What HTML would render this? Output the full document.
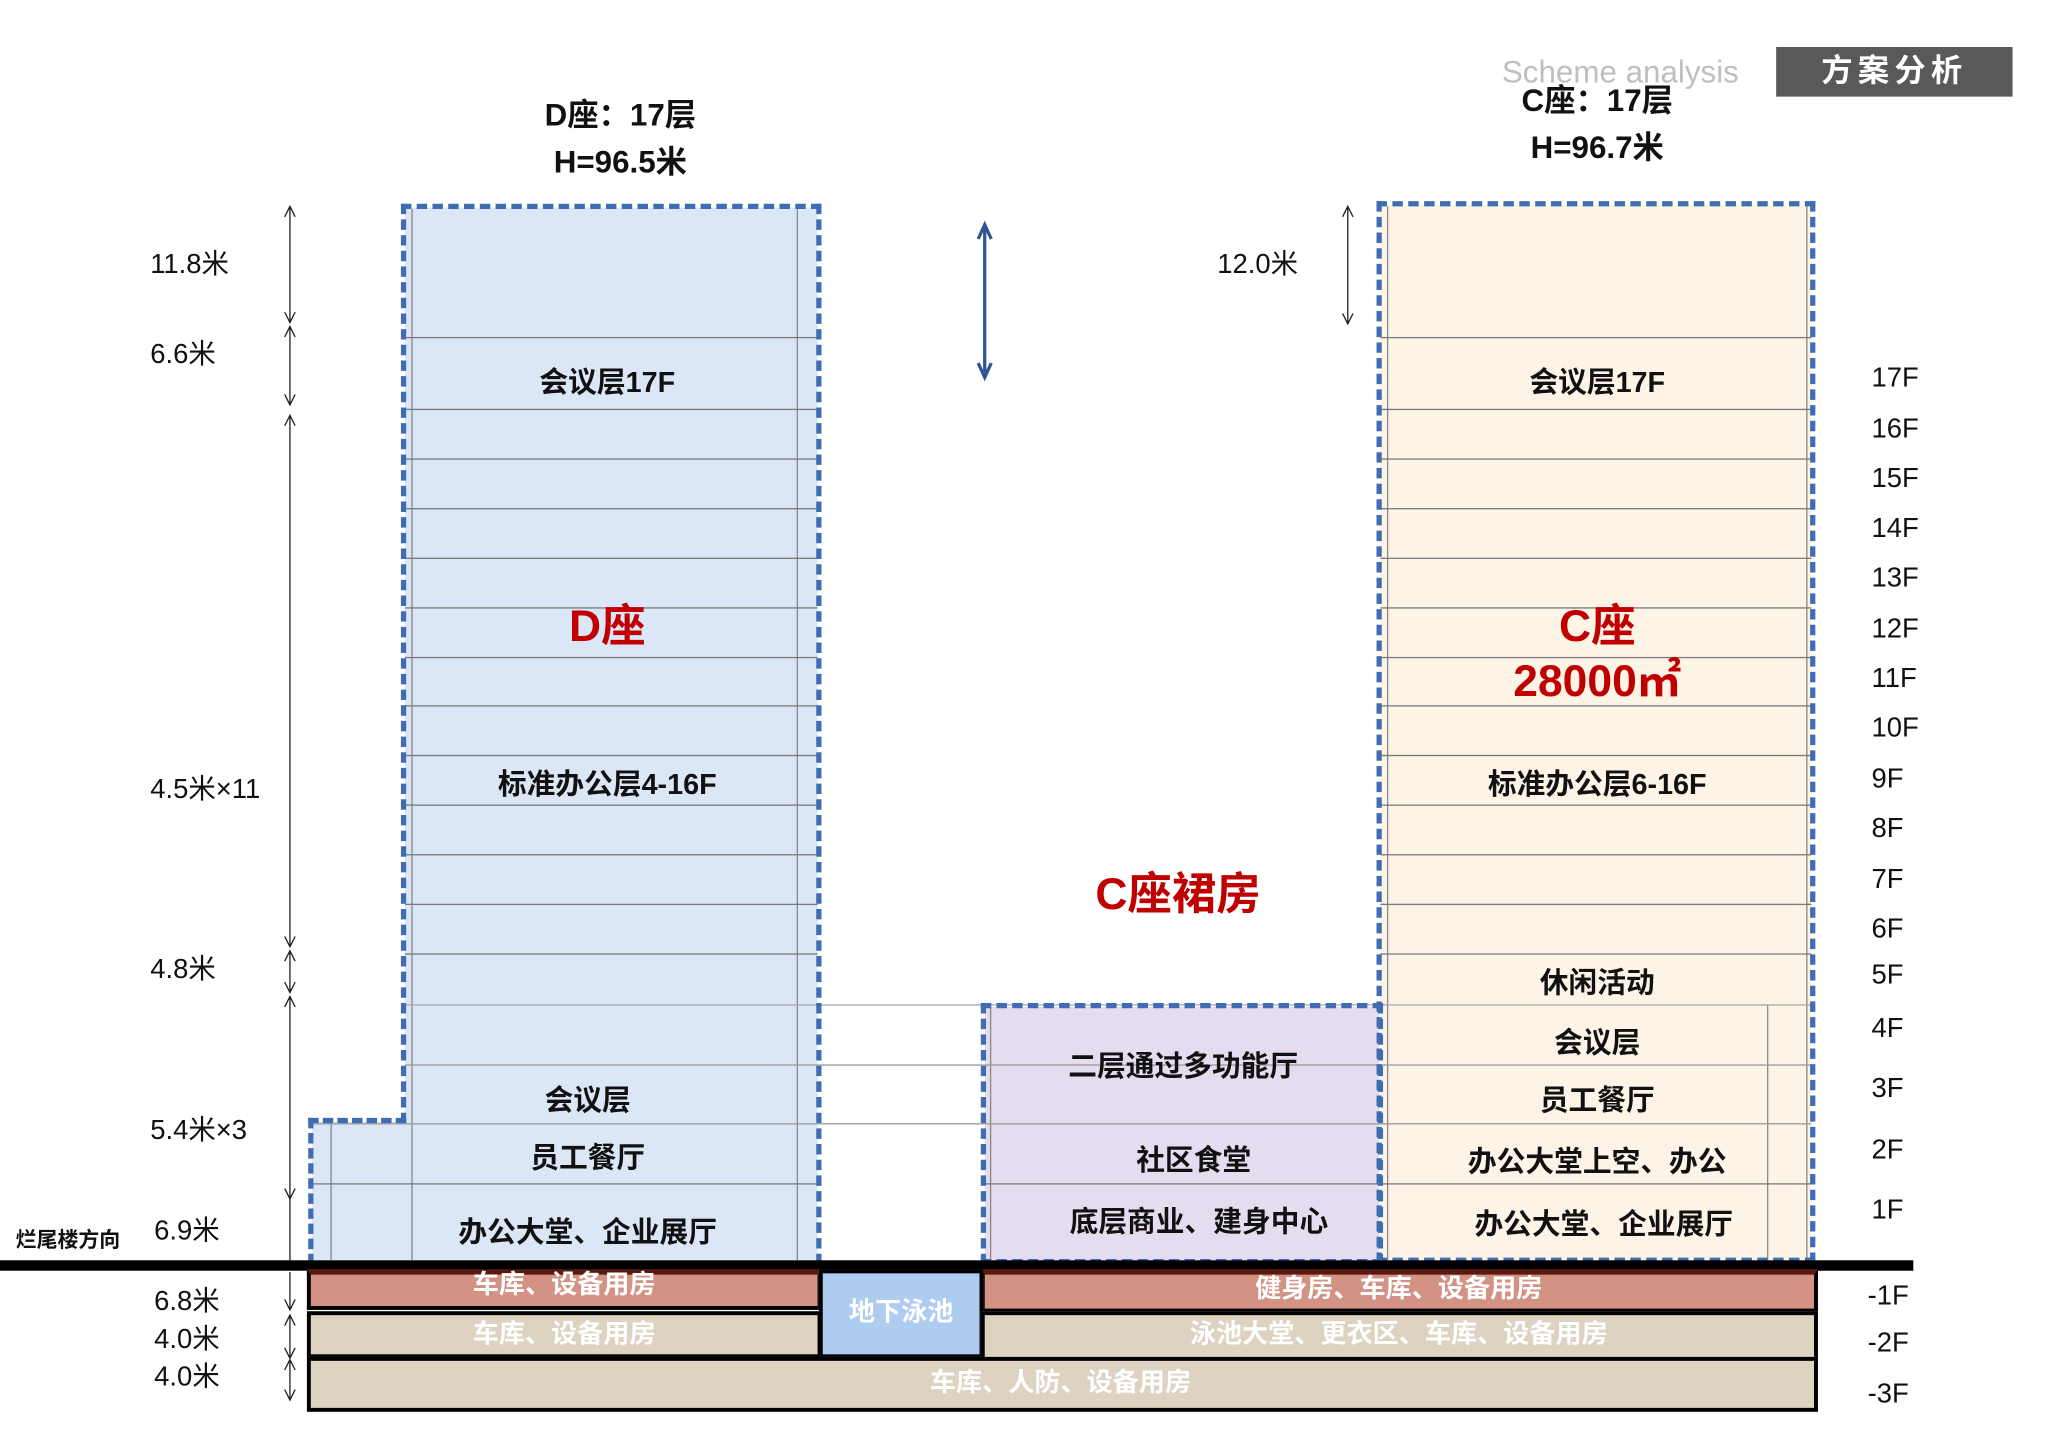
<!DOCTYPE html>
<html><head><meta charset="utf-8"><style>
html,body{margin:0;padding:0;background:#fff;overflow:hidden}
#w{position:absolute;left:0;top:0;width:1568px;height:1108px;transform:scale(1.306,1.306);transform-origin:0 0;font-family:"Liberation Sans","Noto Sans CJK SC",sans-serif}
#w div{position:absolute;box-sizing:border-box}
.t{width:500px;text-align:center;height:30px;line-height:30px;font-weight:bold;font-size:22px;color:#111;white-space:nowrap}
.r{color:#c00000;font-size:34px;height:44px;line-height:44px}
.f{font-size:21px;font-weight:normal;width:80px;text-align:left;color:#111}
.d{font-size:21px;font-weight:normal;text-align:left;color:#111}
.w{color:#fff;font-size:20px}
.h{height:1px;background:#7a7a7a}
.v{width:1px;background:#888}
</style></head><body><div id="w">

<div style="left:1150px;top:42px;font-size:24px;color:#bfbfbf;white-space:nowrap">Scheme analysis</div>
<div style="left:1360px;top:36px;width:181px;height:38px;background:#595959;color:#fff;font-size:24px;font-weight:bold;text-align:center;line-height:38px;letter-spacing:4px">方案分析</div>

<div class="t" style="left:225px;top:74px;font-size:24px">D座：17层</div>
<div class="t" style="left:225px;top:110px;font-size:24px">H=96.5米</div>
<div class="t" style="left:973px;top:63px;font-size:24px">C座：17层</div>
<div class="t" style="left:973px;top:99px;font-size:24px">H=96.7米</div>

<!-- D tower -->
<div style="left:310px;top:159px;width:316px;height:806px;background:#dbe6f7"></div>
<div style="left:239px;top:859px;width:75px;height:106px;background:#dbe6f7"></div>
<div class="v" style="left:315px;top:160px;height:805px"></div>
<div class="v" style="left:610px;top:160px;height:805px"></div>
<div class="v" style="left:253px;top:860px;height:105px"></div>

<!-- C podium -->
<div style="left:754px;top:771px;width:302px;height:195px;background:#e6dcef"></div>
<div class="v" style="left:758px;top:771px;height:195px"></div>

<!-- C tower -->
<div style="left:1057px;top:157px;width:330px;height:808px;background:#fdf3e6"></div>
<div class="v" style="left:1062px;top:158px;height:807px"></div>
<div class="v" style="left:1383px;top:158px;height:807px"></div>
<div class="v" style="left:1353px;top:769px;height:196px"></div>

<!-- floor lines -->
<div class="h" style="left:310px;top:258px;width:316px"></div>
<div class="h" style="left:310px;top:313px;width:316px"></div>
<div class="h" style="left:310px;top:351px;width:316px"></div>
<div class="h" style="left:310px;top:389px;width:316px"></div>
<div class="h" style="left:310px;top:427px;width:316px"></div>
<div class="h" style="left:310px;top:465px;width:316px"></div>
<div class="h" style="left:310px;top:503px;width:316px"></div>
<div class="h" style="left:310px;top:540px;width:316px"></div>
<div class="h" style="left:310px;top:578px;width:316px"></div>
<div class="h" style="left:310px;top:616px;width:316px"></div>
<div class="h" style="left:310px;top:654px;width:316px"></div>
<div class="h" style="left:310px;top:692px;width:316px"></div>
<div class="h" style="left:310px;top:730px;width:316px"></div>
<div class="h" style="left:310px;top:769px;width:1077px;background:#aaa"></div>
<div class="h" style="left:310px;top:815px;width:1077px;background:#999"></div>
<div class="h" style="left:239px;top:860px;width:1148px;background:#999"></div>
<div class="h" style="left:239px;top:906px;width:387px"></div>
<div class="h" style="left:754px;top:906px;width:633px"></div>
<div class="h" style="left:1057px;top:258px;width:330px"></div>
<div class="h" style="left:1057px;top:313px;width:330px"></div>
<div class="h" style="left:1057px;top:351px;width:330px"></div>
<div class="h" style="left:1057px;top:389px;width:330px"></div>
<div class="h" style="left:1057px;top:427px;width:330px"></div>
<div class="h" style="left:1057px;top:465px;width:330px"></div>
<div class="h" style="left:1057px;top:503px;width:330px"></div>
<div class="h" style="left:1057px;top:540px;width:330px"></div>
<div class="h" style="left:1057px;top:578px;width:330px"></div>
<div class="h" style="left:1057px;top:616px;width:330px"></div>
<div class="h" style="left:1057px;top:654px;width:330px"></div>
<div class="h" style="left:1057px;top:692px;width:330px"></div>
<div class="h" style="left:1057px;top:730px;width:330px"></div>

<!-- dashed outlines -->
<div style="left:307px;top:156px;width:322px;height:812px;border:4px dashed #3f6db3;border-bottom:none;border-left:none"></div>
<div style="left:307px;top:156px;width:4px;height:704px;border-left:4px dashed #3f6db3"></div>
<div style="left:236px;top:856px;width:75px;height:112px;border:4px dashed #3f6db3;border-right:none;border-bottom:none"></div>
<div style="left:751px;top:768px;width:308px;height:200px;border:4px dashed #3f6db3"></div>
<div style="left:1054px;top:154px;width:336px;height:813px;border:4px dashed #3f6db3"></div>

<!-- labels -->
<div class="t" style="left:215px;top:278px">会议层17F</div>
<div class="r t" style="left:215px;top:458px">D座</div>
<div class="t" style="left:215px;top:586px">标准办公层4-16F</div>
<div class="t" style="left:200px;top:828px">会议层</div>
<div class="t" style="left:200px;top:872px">员工餐厅</div>
<div class="t" style="left:200px;top:929px">办公大堂、企业展厅</div>

<div class="t" style="left:656px;top:802px">二层通过多功能厅</div>
<div class="t" style="left:664px;top:874px">社区食堂</div>
<div class="t" style="left:668px;top:921px">底层商业、建身中心</div>
<div class="r t" style="left:652px;top:663px">C座裙房</div>

<div class="t" style="left:973px;top:278px">会议层17F</div>
<div class="r t" style="left:973px;top:458px">C座</div>
<div class="r t" style="left:973px;top:500px">28000㎡</div>
<div class="t" style="left:973px;top:586px">标准办公层6-16F</div>
<div class="t" style="left:973px;top:738px">休闲活动</div>
<div class="t" style="left:973px;top:784px">会议层</div>
<div class="t" style="left:973px;top:828px">员工餐厅</div>
<div class="t" style="left:973px;top:875px">办公大堂上空、办公</div>
<div class="t" style="left:978px;top:923px">办公大堂、企业展厅</div>

<!-- floor numbers -->
<div class="t f" style="left:1433px;top:275px">17F</div>
<div class="t f" style="left:1433px;top:314px">16F</div>
<div class="t f" style="left:1433px;top:352px">15F</div>
<div class="t f" style="left:1433px;top:390px">14F</div>
<div class="t f" style="left:1433px;top:428px">13F</div>
<div class="t f" style="left:1433px;top:467px">12F</div>
<div class="t f" style="left:1433px;top:505px">11F</div>
<div class="t f" style="left:1433px;top:543px">10F</div>
<div class="t f" style="left:1433px;top:582px">9F</div>
<div class="t f" style="left:1433px;top:620px">8F</div>
<div class="t f" style="left:1433px;top:659px">7F</div>
<div class="t f" style="left:1433px;top:697px">6F</div>
<div class="t f" style="left:1433px;top:732px">5F</div>
<div class="t f" style="left:1433px;top:773px">4F</div>
<div class="t f" style="left:1433px;top:819px">3F</div>
<div class="t f" style="left:1433px;top:866px">2F</div>
<div class="t f" style="left:1433px;top:912px">1F</div>
<div class="t f" style="left:1430px;top:978px">-1F</div>
<div class="t f" style="left:1430px;top:1014px">-2F</div>
<div class="t f" style="left:1430px;top:1053px">-3F</div>

<!-- dims -->
<div class="t d" style="left:115px;top:188px">11.8米</div>
<div class="t d" style="left:115px;top:257px">6.6米</div>
<div class="t d" style="left:115px;top:590px">4.5米×11</div>
<div class="t d" style="left:115px;top:728px">4.8米</div>
<div class="t d" style="left:115px;top:851px">5.4米×3</div>
<div class="t d" style="left:118px;top:928px">6.9米</div>
<div class="t d" style="left:118px;top:982px">6.8米</div>
<div class="t d" style="left:118px;top:1011px">4.0米</div>
<div class="t d" style="left:118px;top:1040px">4.0米</div>
<div class="t d" style="left:932px;top:188px">12.0米</div>
<div class="t" style="left:12px;top:936px;width:100px;font-size:16px;text-align:left">烂尾楼方向</div>

<svg style="position:absolute;left:0;top:0" width="1560" height="1102">
<g stroke="#222" stroke-width="1" fill="none">
<path d="M222 158V247M218 166L222 158L226 166M218 239L222 247L226 239"/>
<path d="M222 250V310M218 258L222 250L226 258M218 302L222 310L226 302"/>
<path d="M222 318V725M218 326L222 318L226 326M218 717L222 725L226 717"/>
<path d="M222 728V760M218 736L222 728L226 736M218 752L222 760L226 752"/>
<path d="M222 763V918M218 771L222 763L226 771M218 910L222 918L226 910"/>
<path d="M222 918V967"/>
<path d="M222 974V1003M218 995L222 1003L226 995"/>
<path d="M222 1007V1040M218 1015L222 1007L226 1015M218 1032L222 1040L226 1032"/>
<path d="M222 1041V1072M218 1049L222 1041L226 1049M218 1064L222 1072L226 1064"/>
<path d="M1032 158V248M1028 166L1032 158L1036 166M1028 240L1032 248L1036 240"/>
</g>
<g stroke="#2f5597" stroke-width="2.5" fill="none">
<path d="M754 172V289M749 183L754 172L759 183M749 278L754 289L759 278"/>
</g>
</svg>

<!-- ground line -->
<div style="left:0;top:965px;width:1465px;height:8px;background:#000"></div>

<!-- basement -->
<div style="left:235px;top:972px;width:394px;height:31px;background:#d39384;border:3px solid #000;border-top:4px solid #5a1a10"></div>
<div class="t w" style="left:182px;top:969px">车库、设备用房</div>
<div style="left:751px;top:972px;width:641px;height:33px;background:#d39384;border:3px solid #000;border-top:4px solid #5a1a10"></div>
<div class="t w" style="left:821px;top:972px">健身房、车库、设备用房</div>
<div style="left:627px;top:972px;width:126px;height:68px;background:#aecbf0;border:3px solid #000"></div>
<div class="t w" style="left:440px;top:990px">地下泳池</div>
<div style="left:235px;top:1004px;width:394px;height:36px;background:#ddd3c0;border:3px solid #000"></div>
<div class="t w" style="left:182px;top:1007px">车库、设备用房</div>
<div style="left:751px;top:1004px;width:641px;height:38px;background:#ddd3c0;border:3px solid #000"></div>
<div class="t w" style="left:821px;top:1007px">泳池大堂、更衣区、车库、设备用房</div>
<div style="left:235px;top:1039px;width:1157px;height:42px;background:#ddd3c0;border:3px solid #000"></div>
<div class="t w" style="left:562px;top:1044px">车库、人防、设备用房</div>

</div></body></html>
